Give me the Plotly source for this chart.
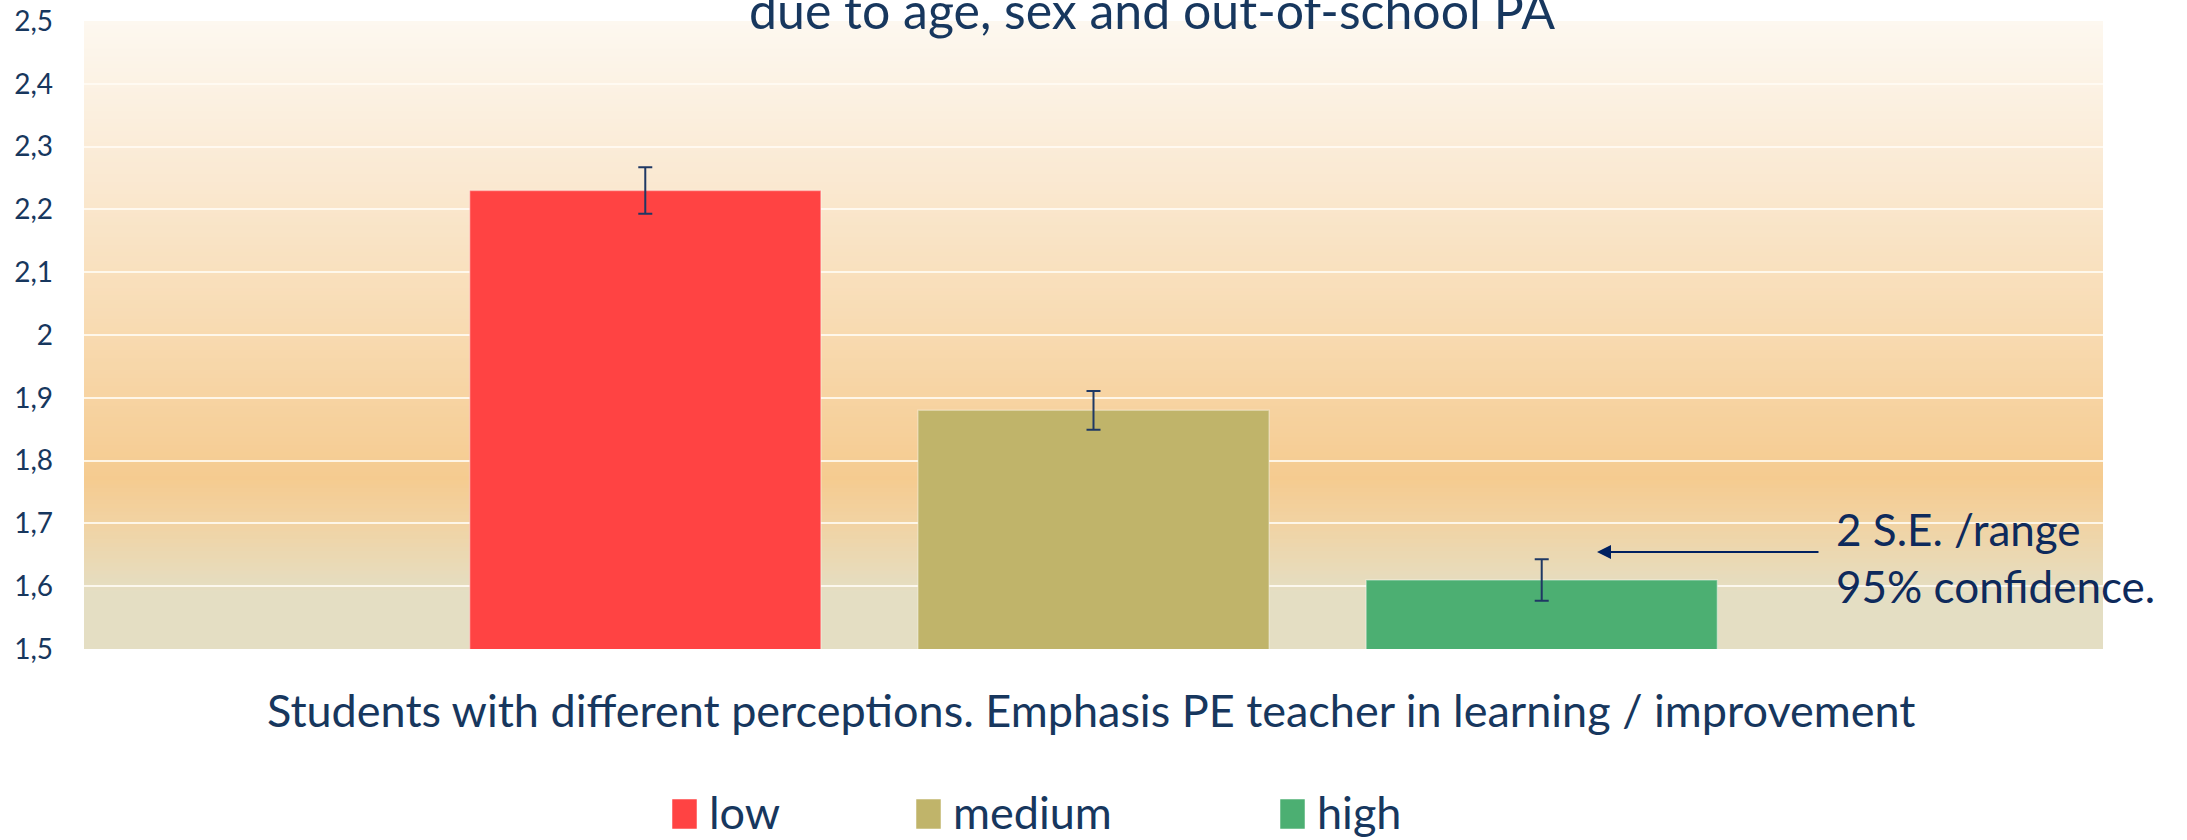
import plotly.graph_objects as go

# ---------------- data ----------------
series = ["low", "medium", "high"]
means = [2.23, 1.88, 1.61]
errors = [0.037, 0.031, 0.033]
bar_colors = ["#FF4343", "#C0B46A", "#4CAF72"]
category = ["Students"]
tick_vals = [1.5, 1.6, 1.7, 1.8, 1.9, 2.0, 2.1, 2.2, 2.3, 2.4, 2.5]
tick_text = ["1,5", "1,6", "1,7", "1,8", "1,9", "2", "2,1", "2,2", "2,3", "2,4", "2,5"]
title_text = "due to age, sex and out-of-school PA"
x_title = "Students with different perceptions. Emphasis PE teacher in learning / improvement"
note_text = "2 S.E. /range<br>95% confidence."

# ---------------- layout geometry (screen pixels; page body margin removed) ----------------
W, H = 2187, 840
PL, PR, PT, PB = 84, 2103, 21, 649          # plot area in screen pixels
L, R, T, B = PL, W - PR, PT, H - PB
PW, PH = PR - PL, PB - PT
NAVY = "#17375E"
FONT = "Lato"


def px_x(x):
    return (x - PL) / PW


def px_y(y):
    return (PB - y) / PH


fig = go.Figure()
for name, m, e, c in zip(series, means, errors, bar_colors):
    fig.add_trace(go.Bar(
        name=name, x=category, y=[m],
        marker=dict(color=c, line=dict(color="rgba(255,255,255,0.35)", width=1.5)),
        error_y=dict(type="data", array=[e], color="#1F3864", thickness=2, width=7),
        showlegend=False,
    ))

# background vertical gradient (bottom -> top)
stops = [
    (0.00, (228, 222, 195)),
    (0.09, (228, 222, 195)),
    (0.20, (241, 211, 163)),
    (0.27, (245, 203, 144)),
    (0.50, (248, 218, 176)),
    (0.75, (250, 233, 210)),
    (1.00, (253, 248, 240)),
]


def grad(t):
    for (t0, c0), (t1, c1) in zip(stops[:-1], stops[1:]):
        if t0 <= t <= t1:
            f = 0 if t1 == t0 else (t - t0) / (t1 - t0)
            return "rgb(%d,%d,%d)" % tuple(round(a + (b - a) * f) for a, b in zip(c0, c1))
    return "rgb(%d,%d,%d)" % stops[-1][1]


N = 160
shapes = []
for i in range(N):
    y0, y1 = i / N, (i + 1) / N
    shapes.append(dict(type="rect", xref="paper", yref="paper", x0=0, x1=1, y0=y0, y1=min(1, y1 + 0.002),
                       fillcolor=grad((y0 + y1) / 2), line=dict(width=0), layer="below"))

# custom legend
leg_sq_x = [672, 916, 1280]
leg_txt_x = [709, 953, 1317]
annotations = []
for name, c, sx, tx in zip(series, bar_colors, leg_sq_x, leg_txt_x):
    shapes.append(dict(type="rect", xref="paper", yref="paper",
                       x0=px_x(sx), x1=px_x(sx + 25), y0=px_y(829), y1=px_y(799),
                       fillcolor=c, line=dict(color="rgba(255,255,255,0.5)", width=1)))
    annotations.append(dict(text=name, xref="paper", yref="paper", x=px_x(tx - 2), y=px_y(812),
                            xanchor="left", yanchor="middle", showarrow=False,
                            font=dict(family=FONT, size=45, color=NAVY)))

# title (partly cut off at top)
annotations.append(dict(text=title_text, xref="paper", yref="paper", x=px_x(1152), y=px_y(10),
                        xanchor="center", yanchor="middle", showarrow=False,
                        font=dict(family=FONT, size=50, color=NAVY)))
# x axis title
annotations.append(dict(text=x_title, xref="paper", yref="paper", x=px_x(1091), y=px_y(710),
                        xanchor="center", yanchor="middle", showarrow=False,
                        font=dict(family=FONT, size=45, color=NAVY)))
# note and arrow
annotations.append(dict(text=note_text, xref="paper", yref="paper", x=px_x(1834), y=px_y(557),
                        xanchor="left", yanchor="middle", align="left", showarrow=False,
                        font=dict(family=FONT, size=44, color="#0E2A5C")))
annotations.append(dict(text="", xref="paper", yref="paper", x=px_x(1597), y=px_y(552),
                        ax=223, ay=0, showarrow=True, arrowhead=2, arrowsize=1.4,
                        arrowwidth=2, arrowcolor="#002060", standoff=0, startstandoff=0))

fig.update_layout(
    width=W, height=H,
    margin=dict(l=L, r=R, t=T, b=B, pad=0, autoexpand=False),
    paper_bgcolor="white", plot_bgcolor="rgba(0,0,0,0)",
    barmode="group", bargap=0.334, bargroupgap=0.2165,
    shapes=shapes, annotations=annotations,
    showlegend=False,
    font=dict(family=FONT, color=NAVY),
)
fig.update_xaxes(showticklabels=False, showgrid=False, zeroline=False, showline=False, ticks="",
                 automargin=False)
fig.update_yaxes(range=[1.5, 2.5], tickvals=tick_vals, ticktext=tick_text,
                 showgrid=True, gridcolor="rgba(255,252,244,0.85)", gridwidth=2,
                 zeroline=False, showline=False, ticks="", ticklabelstandoff=30,
                 ticklabeloverflow="allow", automargin=False,
                 tickfont=dict(family=FONT, size=28, color=NAVY))

fig.write_html("out.html", config={"displayModeBar": False},
               post_script="document.body.style.margin='0px';document.body.style.overflow='hidden';")
